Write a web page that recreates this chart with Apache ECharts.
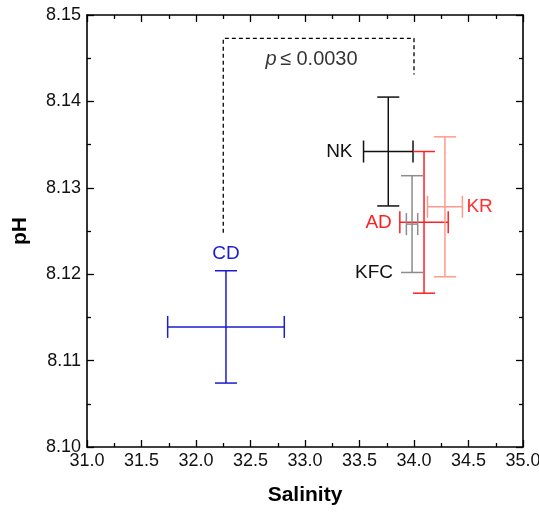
<!DOCTYPE html>
<html>
<head>
<meta charset="utf-8">
<script src="https://cdn.jsdelivr.net/npm/echarts@6/dist/echarts.min.js"></script>
<style>
  html, body { margin: 0; padding: 0; background: #fff; }
  #chart { width: 539px; height: 512px; }
</style>
</head>
<body>
<div id="chart"></div>
<script>
// station means with error
var stations = ['CD', 'NK', 'AD', 'KFC', 'KR']
var salinity = [32.275, 33.764, 34.092, 33.982, 34.284]
var salinityErr = [0.535, 0.227, 0.222, 0.052, 0.16]
var ph = [8.1139, 8.1342, 8.1260, 8.1258, 8.1278]
var phErr = [0.0065, 0.0063, 0.0082, 0.0056, 0.0081]

// dashed significance bracket CD -> NK
var bracketX = [32.25, 32.25, 34.0, 34.0]
var bracketY = [8.1248, 8.1473, 8.1473, 8.1431]
var pText = 'p ≤ 0.0030'
var pPos = [33.06, 8.1448]

var xTicks = { min: 31, max: 35, step: 0.5 }
var yTicks = { min: 8.10, max: 8.15, step: 0.01 }

// styles
var barColors = { CD: '#1c1cd0', NK: '#111111', AD: '#ff2020', KFC: '#8c8c8c', KR: '#ff9a8c' }
var textColors = { CD: '#1c1cd0', NK: '#111111', AD: '#ff2020', KFC: '#111111', KR: '#ff3030' }
// where each label sits: anchor point + pixel offset
var labelPlace = {
  CD: { anchor: 'top', dx: 0, dy: -17, align: 'center' },
  NK: { anchor: 'left', dx: -11, dy: 0, align: 'right' },
  AD: { anchor: 'left', dx: -8, dy: 0, align: 'right' },
  KFC: { anchor: 'bottom', dx: -19, dy: 0, align: 'right' },
  KR: { anchor: 'right', dx: 4, dy: 0, align: 'left' }
}

var FONT = 'Liberation Sans, Arial, sans-serif'
var CAP = 11

function renderBar (params, api) {
  var name = stations[params.dataIndex]
  var x = api.value(0), y = api.value(1), xe = api.value(2), ye = api.value(3)
  var l = api.coord([x - xe, y])
  var r = api.coord([x + xe, y])
  var t = api.coord([x, y + ye])
  var b = api.coord([x, y - ye])
  var st = { stroke: barColors[name], lineWidth: 1.5 }
  function seg (x1, y1, x2, y2) {
    return { type: 'line', shape: { x1: x1, y1: y1, x2: x2, y2: y2 }, style: st }
  }
  return {
    type: 'group',
    children: [
      seg(l[0], l[1], r[0], r[1]),
      seg(t[0], t[1], b[0], b[1]),
      seg(l[0], l[1] - CAP, l[0], l[1] + CAP),
      seg(r[0], r[1] - CAP, r[0], r[1] + CAP),
      seg(t[0] - CAP, t[1], t[0] + CAP, t[1]),
      seg(b[0] - CAP, b[1], b[0] + CAP, b[1])
    ]
  }
}

function renderLabel (params, api) {
  var name = stations[params.dataIndex]
  var x = api.value(0), y = api.value(1), xe = api.value(2), ye = api.value(3)
  var p = labelPlace[name]
  var pt
  if (p.anchor === 'top') pt = api.coord([x, y + ye])
  else if (p.anchor === 'bottom') pt = api.coord([x, y - ye])
  else if (p.anchor === 'left') pt = api.coord([x - xe, y])
  else pt = api.coord([x + xe, y])
  return {
    type: 'text',
    x: pt[0] + p.dx,
    y: pt[1] + p.dy,
    style: {
      text: name,
      fill: textColors[name],
      font: '19px ' + FONT,
      align: p.align,
      verticalAlign: 'middle'
    }
  }
}

var barData = stations.map(function (s, i) {
  return [salinity[i], ph[i], salinityErr[i], phErr[i]]
})

var axisLine = { show: true, onZero: false, lineStyle: { color: '#000', width: 1.6 } }
var tick = { show: true, inside: true, length: 7, lineStyle: { color: '#000', width: 1.3 } }
var minor = { show: true, splitNumber: 2, length: 4, lineStyle: { color: '#000', width: 1.3 } }
var tickLabel = { color: '#111', fontSize: 18, fontFamily: FONT }

var chart = echarts.init(document.getElementById('chart'))
chart.setOption({
  animation: false,
  grid: { left: 87, right: 16, top: 15, bottom: 65, outerBoundsMode: 'none', containLabel: false },
  xAxis: [{
    type: 'value',
    position: 'bottom',
    min: xTicks.min,
    max: xTicks.max,
    interval: xTicks.step,
    name: 'Salinity',
    nameLocation: 'middle',
    nameGap: 38,
    nameTextStyle: { color: '#000', fontSize: 21, fontWeight: 'bold', fontFamily: FONT },
    axisLine: axisLine,
    axisTick: tick,
    minorTick: minor,
    splitLine: { show: false },
    axisLabel: Object.assign({ margin: 5, formatter: function (v) { return v.toFixed(1) } }, tickLabel)
  }, {
    type: 'value',
    position: 'top',
    min: xTicks.min,
    max: xTicks.max,
    interval: xTicks.step,
    axisLine: axisLine,
    axisTick: tick,
    minorTick: minor,
    splitLine: { show: false },
    axisLabel: { show: false }
  }],
  yAxis: [{
    type: 'value',
    position: 'left',
    min: yTicks.min,
    max: yTicks.max,
    interval: yTicks.step,
    name: 'pH',
    nameLocation: 'middle',
    nameGap: 56,
    nameTextStyle: { color: '#000', fontSize: 21, fontWeight: 'bold', fontFamily: FONT },
    axisLine: axisLine,
    axisTick: tick,
    minorTick: minor,
    splitLine: { show: false },
    axisLabel: Object.assign({ margin: 6, formatter: function (v) { return v.toFixed(2) } }, tickLabel)
  }, {
    type: 'value',
    position: 'right',
    min: yTicks.min,
    max: yTicks.max,
    interval: yTicks.step,
    axisLine: axisLine,
    axisTick: tick,
    minorTick: minor,
    splitLine: { show: false },
    axisLabel: { show: false }
  }],
  series: [
    {
      type: 'line',
      data: bracketX.map(function (x, i) { return [x, bracketY[i]] }),
      symbol: 'none',
      silent: true,
      lineStyle: { color: '#000', width: 1.3, type: [4, 3] }
    },
    {
      type: 'scatter',
      data: [pPos],
      symbolSize: 0,
      silent: true,
      label: {
        show: true,
        position: 'inside',
        formatter: '{i|p} {n|' + pText.slice(2) + '}',
        rich: {
          i: { fontStyle: 'italic', fontSize: 20, color: '#000', fontFamily: FONT },
          n: { fontSize: 20, color: '#000', fontFamily: FONT }
        }
      }
    },
    {
      type: 'custom',
      renderItem: renderBar,
      data: barData,
      silent: true,
      z: 3
    },
    {
      type: 'custom',
      renderItem: renderLabel,
      data: barData,
      silent: true,
      z: 4
    }
  ]
})
</script>
</body>
</html>
